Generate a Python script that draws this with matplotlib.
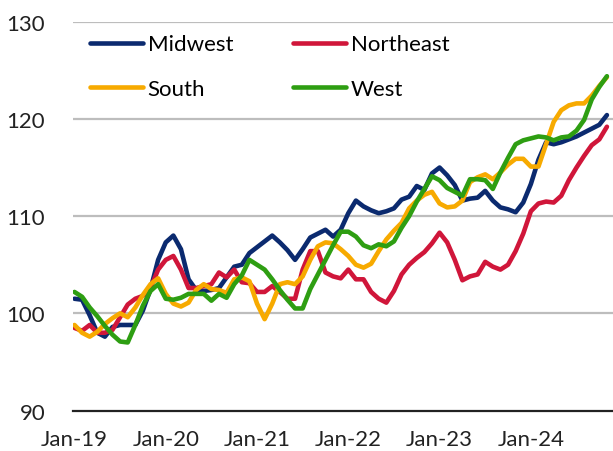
import numpy as np
import matplotlib
matplotlib.use("Agg")
import matplotlib.pyplot as plt

plt.rcParams['font.family'] = ['Lato', 'DejaVu Sans']

# monthly index values, Jan-19 .. Nov-24
midwest = [101.5, 101.4, 99.8, 98.0, 97.6, 98.6, 98.8, 98.8, 98.8, 100.3, 102.5, 105.5,
           107.3, 108.0, 106.6, 103.5, 102.4, 102.3, 102.4, 102.6, 103.7, 104.8, 105.0, 106.2,
           106.8, 107.4, 108.0, 107.3, 106.5, 105.5, 106.6, 107.8, 108.2, 108.6, 107.9, 108.6,
           110.3, 111.6, 111.0, 110.6, 110.3, 110.5, 110.8, 111.7, 112.0, 113.1, 112.7, 114.4,
           115.0, 114.2, 113.2, 111.6, 111.8, 111.9, 112.6, 111.6, 110.9, 110.7, 110.4, 111.4,
           113.3, 115.8, 117.6, 117.4, 117.6, 117.9, 118.2, 118.6, 119.0, 119.4, 120.4]
northeast = [98.5, 98.2, 98.8, 98.0, 98.0, 98.3, 99.6, 100.9, 101.5, 101.8, 102.6, 104.5,
             105.5, 105.9, 104.5, 102.6, 102.6, 102.8, 103.0, 104.2, 103.7, 104.5, 103.2, 103.1,
             102.2, 102.2, 102.8, 102.2, 101.5, 101.5, 104.5, 106.4, 106.4, 104.2, 103.8, 103.6,
             104.5, 103.5, 103.5, 102.2, 101.5, 101.1, 102.3, 104.0, 105.0, 105.7, 106.3, 107.2,
             108.3, 107.3, 105.5, 103.4, 103.8, 104.0, 105.3, 104.8, 104.5, 105.0, 106.4, 108.2,
             110.5, 111.3, 111.5, 111.4, 112.1, 113.7, 115.0, 116.2, 117.3, 117.9, 119.2]
south = [98.8, 98.0, 97.6, 98.1, 98.9, 99.5, 100.0, 99.6, 100.6, 101.9, 103.0, 103.6,
         102.0, 101.0, 100.7, 101.1, 102.4, 103.0, 102.5, 102.4, 102.1, 103.5, 103.7, 103.3,
         101.0, 99.4, 101.0, 103.0, 103.2, 103.0, 103.8, 105.5, 106.9, 107.3, 107.2, 106.6,
         105.9, 105.0, 104.7, 105.1, 106.4, 107.6, 108.5, 109.3, 110.8, 111.6, 112.2, 112.5,
         111.3, 110.9, 111.0, 111.6, 113.5, 114.0, 114.3, 113.8, 114.5, 115.3, 115.9, 115.9,
         115.1, 115.1, 117.4, 119.7, 120.9, 121.4, 121.6, 121.6, 122.4, 123.4, 124.3]
west = [102.2, 101.7, 100.6, 99.7, 98.7, 97.8, 97.1, 97.0, 98.8, 100.8, 102.3, 103.0,
        101.5, 101.4, 101.6, 102.0, 102.0, 102.0, 101.3, 102.0, 101.6, 103.0, 103.9, 105.5,
        105.0, 104.5, 103.5, 102.4, 101.4, 100.5, 100.5, 102.5, 104.0, 105.5, 107.0, 108.4,
        108.4, 107.9, 107.0, 106.7, 107.1, 106.9, 107.4, 108.8, 110.0, 111.5, 112.8, 114.1,
        113.7, 112.9, 112.5, 112.1, 113.8, 113.8, 113.7, 112.8, 114.5, 116.0, 117.4, 117.8,
        118.0, 118.2, 118.1, 117.8, 118.1, 118.2, 118.8, 119.9, 122.0, 123.3, 124.4]

tick_labels = ['Jan-19', 'Jan-20', 'Jan-21', 'Jan-22', 'Jan-23', 'Jan-24']

x = np.arange(len(midwest))

fig = plt.figure(figsize=(6.13, 4.52), dpi=100)
ax = fig.add_axes([0.119, 0.0896, 0.881, 0.86])

l1, = ax.plot(x, midwest, color='#0b2a6f', lw=3.3, label='Midwest', solid_capstyle='round')
l2, = ax.plot(x, northeast, color='#d0163a', lw=3.3, label='Northeast', solid_capstyle='round')
l3, = ax.plot(x, south, color='#f7aa00', lw=3.3, label='South', solid_capstyle='round')
l4, = ax.plot(x, west, color='#2e9e12', lw=3.3, label='West', solid_capstyle='round')

ax.set_ylim(90, 130)
ax.set_xlim(-0.2, 70.8)
ax.set_yticks([90, 100, 110, 120, 130])
ax.set_xticks(np.arange(0, 72, 12))
ax.set_xticklabels(tick_labels)

for v in [100, 110, 120, 130]:
    ax.axhline(v, color='#bdbdbd', lw=1.6, zorder=0)

for s in ['top', 'right', 'left']:
    ax.spines[s].set_visible(False)
ax.spines['bottom'].set_color('#222222')
ax.spines['bottom'].set_linewidth(1.6)

ax.tick_params(axis='both', length=0, labelsize=16, colors='#222222')
ax.tick_params(axis='y', pad=20)
ax.tick_params(axis='x', pad=13)

# column-wise fill: Midwest/South in col 1, Northeast/West in col 2
ax.legend([l1, l3, l2, l4], ['Midwest', 'South', 'Northeast', 'West'],
          loc='upper left', bbox_to_anchor=(0.019, 0.985), ncol=2, frameon=False,
          fontsize=16, handlelength=2.4, handletextpad=0.2, columnspacing=2.7,
          labelspacing=1.1, borderaxespad=0, borderpad=0.3)

fig.savefig('out.png', dpi=100)
